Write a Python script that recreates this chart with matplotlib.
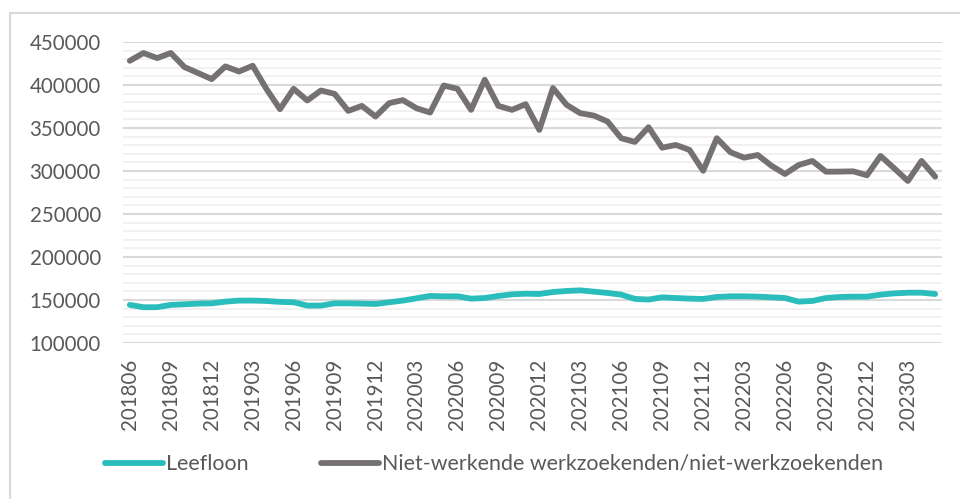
import matplotlib
matplotlib.use("Agg")
import matplotlib.pyplot as plt
from matplotlib.patches import Rectangle
from matplotlib.lines import Line2D
from matplotlib.ticker import MultipleLocator
import pandas as pd

plt.rcParams['font.family'] = ['Lato', 'DejaVu Sans']

# maanden 201806 .. 202305
maanden = list(pd.period_range('2018-06', '2023-05', freq='M').strftime('%Y%m'))

leefloon = [
    144300, 141600, 141600, 144300, 145000, 145800, 146100, 148100, 149300, 149300,
    148900, 147800, 147400, 143500, 143500, 146100, 146100, 145800, 145400, 147400,
    149300, 152000, 154700, 154300, 154300, 151600, 152300, 154700, 156600, 157300,
    157000, 159300, 160500, 161200, 159700, 158200, 156200, 151300, 150500, 153100,
    152300, 151600, 151200, 153500, 154300, 154300, 153900, 153100, 152300, 148100,
    148900, 152300, 153500, 153900, 153900, 156200, 157700, 158500, 158500, 157000,
]

nwwz = [
    428200, 437200, 431300, 437200, 420900, 413900, 406900, 421600, 415700, 422400,
    395600, 371900, 395600, 382000, 393600, 389700, 369900, 375700, 363300, 378900,
    382400, 373000, 368000, 399400, 395600, 371100, 406100, 375700, 371100, 377700,
    347800, 396400, 376900, 367200, 364400, 357500, 338100, 333800, 350900, 327100,
    330300, 324500, 300300, 338100, 321800, 315500, 318600, 306200, 296500, 307000,
    311700, 299200, 299300, 299600, 295000, 317500, 303100, 288400, 311700, 293400,
]

teal = '#2bbdbb'
grijs = '#767171'
tekst = '#595959'

fig = plt.figure(figsize=(9.6, 4.99), dpi=100)
ax = fig.add_axes([123 / 960, 1 - 343 / 499, (942 - 123) / 960, (343 - 42) / 499])

x = list(range(len(maanden)))
ax.plot(x, nwwz, color=grijs, lw=4.2, solid_joinstyle='round', solid_capstyle='round', zorder=3)
ax.plot(x, leefloon, color=teal, lw=4.2, solid_joinstyle='round', solid_capstyle='round', zorder=3)

ax.set_xlim(-0.5, len(maanden) - 0.5)
ax.set_ylim(100000, 450000)
ax.yaxis.set_major_locator(MultipleLocator(50000))
ax.yaxis.set_minor_locator(MultipleLocator(10000))
ax.grid(which='minor', axis='y', color='#f0f0f0', lw=1.3)
ax.grid(which='major', axis='y', color='#d9d9d9', lw=1.5)
ax.set_axisbelow(True)

ax.set_xticks(x[::3])
ax.set_xticklabels(maanden[::3], rotation=90)
ax.tick_params(axis='both', length=0, labelsize=14.8, colors=tekst)
ax.tick_params(axis='x', pad=11)
ax.tick_params(axis='y', pad=16)
ax.tick_params(which='minor', length=0)
for s in ax.spines.values():
    s.set_visible(False)

# kader rond de grafiek
fig.patches.append(Rectangle((10 / 960, -0.1), 1.0, 1.1 - 13 / 499,
                             transform=fig.transFigure, fill=False,
                             edgecolor='#d9d9d9', lw=1.5))

handles = [Line2D([], [], color=teal, lw=4.2, solid_capstyle='round'),
           Line2D([], [], color=grijs, lw=4.2, solid_capstyle='round')]
fig.legend(handles, ['Leefloon', 'Niet-werkende werkzoekenden/niet-werkzoekenden'],
           loc='center', bbox_to_anchor=(494 / 960, 1 - 464 / 499), ncol=2,
           frameon=False, fontsize=15.4, labelcolor=tekst, handlelength=2.7,
           handletextpad=0.15, columnspacing=3.4)

fig.savefig('out.png', dpi=100)
